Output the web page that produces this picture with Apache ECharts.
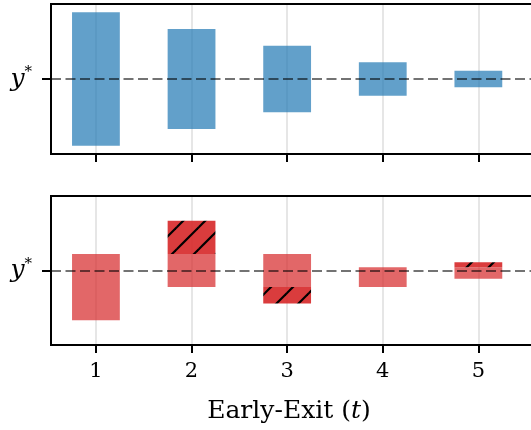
<!DOCTYPE html>
<html><head><meta charset="utf-8">
<script src="https://cdn.jsdelivr.net/npm/echarts@6/dist/echarts.min.js"></script>
<style>html,body{margin:0;padding:0;background:#fff}#c{width:531px;height:430px}</style>
</head><body><div id="c"></div>
<script>
// ---- data ----
const exits = [1, 2, 3, 4, 5];
const xTickLabels = ['1', '2', '3', '4', '5'];
const yStar = 0;
const topLow = [-8, -6, -4, -2, -1];
const topHigh = [8, 6, 4, 2, 1];
const botSolidLow = [-6, -2, -2, -2, -1];
const botSolidHigh = [2, 2, 2, 0.4, 0.4];
const botHatchLow = [null, 2, -4, null, 0.4];
const botHatchHigh = [null, 6, -2, null, 1];
const xAxisTitle = 'Early-Exit ({t|t})';

// ---- styles ----
const SERIF = 'DejaVu Serif';
function makeHatch() {
  const T = 22, cv = document.createElement('canvas');
  cv.width = T; cv.height = T;
  const g = cv.getContext('2d');
  g.fillStyle = 'rgba(214,39,40,0.9)';
  g.fillRect(0, 0, T, T);
  g.strokeStyle = '#000'; g.lineWidth = 2.2;
  const off = 8;
  for (let k = -1; k <= 2; k++) {
    const s = off + k * T;
    g.beginPath(); g.moveTo(s + 2, -2); g.lineTo(s - T - 2, T + 2); g.stroke();
  }
  return cv;
}
const hatchFill = { image: makeHatch(), repeat: 'repeat' };

function rangeRender(fill) {
  return function (params, api) {
    const x = api.value(0), lo = api.value(1), hi = api.value(2);
    const p1 = api.coord([x, hi]), p2 = api.coord([x, lo]);
    const w = api.size([0.5, 0])[0];
    return { type: 'rect', shape: { x: p1[0] - w / 2, y: p1[1], width: w, height: p2[1] - p1[1] }, style: { fill: fill } };
  };
}
function build(lo, hi) {
  const out = [];
  exits.forEach((x, i) => { if (lo[i] != null && hi[i] != null) out.push([x, lo[i], hi[i]]); });
  return out;
}

const SPINE = { show: true, onZero: false, lineStyle: { color: '#000', width: 2, cap: 'square' } };

const grids = [
  { left: 51, width: 513.4, top: 4, height: 150 },
  { left: 51, width: 513.4, top: 196, height: 149 }
].map(g => Object.assign(g, { show: false, containLabel: false, outerBoundsMode: 'none' }));

const xAxes = [];
[0, 1].forEach(i => {
  xAxes.push({
    type: 'value', gridIndex: i, min: 0.53, max: 5.9, position: 'bottom',
    axisLine: SPINE,
    axisTick: { show: true, length: 8, lineStyle: { color: '#000', width: 2 }, customValues: exits },
    axisLabel: { show: i === 1, customValues: exits, formatter: v => xTickLabels[exits.indexOf(v)],
      fontFamily: SERIF, fontSize: 21, color: '#000', margin: 16 },
    splitLine: { show: true, lineStyle: { color: '#e6e6e6', width: 2 } }
  });
  xAxes.push({
    type: 'value', gridIndex: i, min: 0.53, max: 5.9, position: 'top',
    axisLine: SPINE, axisTick: { show: false }, axisLabel: { show: false }, splitLine: { show: false }
  });
});

const yAxes = [0, 1].map(i => ({
  type: 'value', gridIndex: i, min: -9, max: 9, position: 'left',
  axisLine: SPINE, splitLine: { show: false },
  axisTick: { show: true, customValues: [yStar], length: 9, lineStyle: { color: '#000', width: 2 } },
  axisLabel: { show: true, customValues: [yStar], margin: 19, formatter: () => '{i|y}{s|*}',
    rich: {
      i: { fontFamily: SERIF, fontStyle: 'italic', fontSize: 25, color: '#000' },
      s: { fontFamily: SERIF, fontSize: 15, color: '#000', padding: [0, 0, 13, 0] }
    } }
}));

const refLine = {
  silent: true, symbol: ['none', 'none'], label: { show: false }, z: 10,
  lineStyle: { color: 'rgba(0,0,0,0.55)', width: 2, type: [10, 4.5] },
  data: [{ yAxis: yStar }]
};

const series = [
  { type: 'custom', xAxisIndex: 0, yAxisIndex: 0, renderItem: rangeRender('rgba(31,119,180,0.7)'),
    data: build(topLow, topHigh), markLine: refLine, z: 2 },
  { type: 'custom', xAxisIndex: 2, yAxisIndex: 1, renderItem: rangeRender('rgba(214,39,40,0.7)'),
    data: build(botSolidLow, botSolidHigh), markLine: refLine, z: 2 },
  { type: 'custom', xAxisIndex: 2, yAxisIndex: 1, renderItem: rangeRender(hatchFill),
    data: build(botHatchLow, botHatchHigh), z: 2 }
];

const chart = echarts.init(document.getElementById('c'), null, { renderer: 'canvas' });
chart.setOption({
  animation: false,
  backgroundColor: '#fff',
  grid: grids, xAxis: xAxes, yAxis: yAxes, series: series,
  graphic: [{
    type: 'text', x: 289, y: 411,
    style: { text: xAxisTitle, fontFamily: SERIF, fontSize: 25, fill: '#000', align: 'center', verticalAlign: 'middle',
      rich: { t: { fontFamily: SERIF, fontStyle: 'italic', fontSize: 25, fill: '#000' } } }
  }]
});
</script>
</body></html>
